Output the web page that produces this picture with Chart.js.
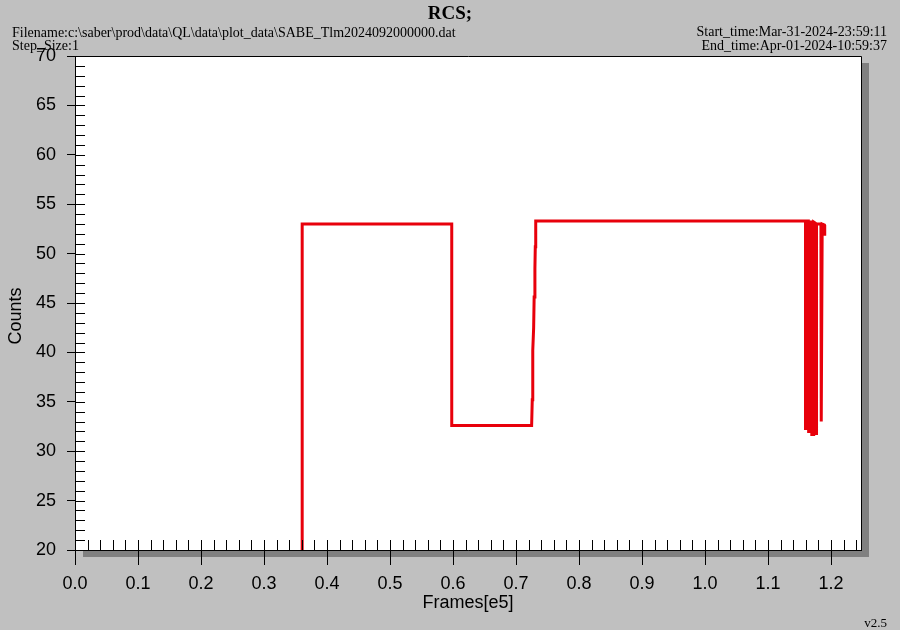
<!DOCTYPE html>
<html><head><meta charset="utf-8">
<script src="https://cdn.jsdelivr.net/npm/chart.js@4.4.1/dist/chart.umd.min.js"></script>
<style>html,body{margin:0;padding:0;background:#c0c0c0;}canvas{display:block;}</style>
</head><body>
<canvas id="c" width="900" height="630"></canvas>
<script>
const chartTitle = 'RCS;';
const headerLeft = ['Filename:c:\\saber\\prod\\data\\QL\\data\\plot_data\\SABE_Tlm2024092000000.dat', 'Step_Size:1'];
const headerRight = ['Start_time:Mar-31-2024-23:59:11', 'End_time:Apr-01-2024-10:59:37'];
const versionLabel = 'v2.5';
const xAxisTitle = 'Frames[e5]';
const yAxisTitle = 'Counts';
const xTicks = [0.0, 0.1, 0.2, 0.3, 0.4, 0.5, 0.6, 0.7, 0.8, 0.9, 1.0, 1.1, 1.2];
const yTicks = [20, 25, 30, 35, 40, 45, 50, 55, 60, 65, 70];
const xRange = [0, 1.2476];
const yRange = [20, 70];

// RCS counts vs frames (e5)
const frames = [0.000, 0.3606, 0.3606, 0.5980, 0.5980, 0.7248, 0.7258, 0.7266, 0.7280, 0.7288, 0.7300, 0.7306, 0.7313,
  1.1595, 1.1595, 1.1610, 1.1615, 1.1640, 1.1645, 1.1665, 1.1670, 1.1690, 1.1695, 1.1720, 1.1725, 1.1750, 1.1755,
  1.1765, 1.1770, 1.1840, 1.1845, 1.1855, 1.1860, 1.1895, 1.1900];
const counts = [0, 0, 53.0, 53.0, 32.6, 32.6, 35.2, 40.2, 42.5, 45.6, 48.5, 50.7, 53.3,
  53.3, 32.3, 32.3, 53.3, 53.3, 32.0, 32.0, 53.2, 53.2, 31.7, 31.7, 53.2, 53.1, 31.8,
  31.8, 53.0, 53.0, 33.0, 33.0, 53.0, 52.9, 51.8];

Chart.defaults.font.family = 'Liberation Sans';
Chart.defaults.color = '#000';

const framePlugin = {
  id: 'framePlugin',
  beforeDraw(chart) {
    const {ctx, chartArea: a} = chart;
    ctx.save();
    ctx.fillStyle = '#c0c0c0';
    ctx.fillRect(0, 0, chart.width, chart.height);
    ctx.fillStyle = '#808080';
    ctx.fillRect(a.left + 8, a.top + 7, a.right - a.left, a.bottom - a.top);
    ctx.fillStyle = '#ffffff';
    ctx.fillRect(a.left, a.top, a.right - a.left, a.bottom - a.top);
    // header texts
    ctx.fillStyle = '#000';
    ctx.textBaseline = 'alphabetic';
    ctx.font = 'bold 19px "Liberation Serif"';
    ctx.textAlign = 'center';
    ctx.fillText(chartTitle, 450, 19);
    ctx.font = '14px "Liberation Serif"';
    ctx.textAlign = 'left';
    ctx.fillText(headerLeft[0], 12, 37);
    ctx.fillText(headerLeft[1], 12, 50);
    ctx.textAlign = 'right';
    ctx.fillText(headerRight[0], 887, 36);
    ctx.fillText(headerRight[1], 887, 50);
    ctx.font = '13px "Liberation Serif"';
    ctx.fillText(versionLabel, 887, 627);
    // y axis title
    ctx.font = '18px "Liberation Sans"';
    ctx.translate(16, 316);
    ctx.rotate(-Math.PI / 2);
    ctx.textAlign = 'center';
    ctx.textBaseline = 'middle';
    ctx.fillText(yAxisTitle, 0, 0);
    ctx.restore();
  },
  afterDraw(chart) {
    const {ctx, chartArea: a, scales} = chart;
    ctx.save();
    ctx.strokeStyle = '#000';
    ctx.lineWidth = 1;
    ctx.beginPath();
    // inner ticks on x every 0.02
    for (let i = 1; i * 0.02 < xRange[1]; i++) {
      const px = Math.round(scales.x.getPixelForValue(i * 0.02)) + 0.5;
      ctx.moveTo(px, a.bottom);
      ctx.lineTo(px, a.bottom - 10);
    }
    // inner ticks on y every 1
    for (let v = yRange[0] + 1; v < yRange[1]; v++) {
      const py = Math.round(scales.y.getPixelForValue(v)) + 0.5;
      ctx.moveTo(a.left, py);
      ctx.lineTo(a.left + 10, py);
    }
    // top and right border
    ctx.moveTo(a.left, Math.round(a.top) + 0.5);
    ctx.lineTo(Math.round(a.right) + 0.5, Math.round(a.top) + 0.5);
    ctx.lineTo(Math.round(a.right) + 0.5, a.bottom);
    ctx.stroke();
    ctx.restore();
  }
};

new Chart(document.getElementById('c'), {
  type: 'scatter',
  data: {
    datasets: [{
      data: frames.map((f, i) => ({x: f, y: counts[i]})),
      showLine: true,
      borderColor: '#e8000b',
      borderWidth: 3,
      pointRadius: 0,
      fill: false,
      tension: 0,
      clip: 0
    }]
  },
  options: {
    responsive: false,
    animation: false,
    devicePixelRatio: 1,
    layout: {padding: {left: 0, top: 56, right: 39, bottom: 0}},
    plugins: {legend: {display: false}, tooltip: {enabled: false}},
    scales: {
      x: {
        type: 'linear', min: xRange[0], max: xRange[1],
        afterBuildTicks: s => { s.ticks = xTicks.map(v => ({value: v})); },
        afterFit: s => { s.height = 80; },
        ticks: {callback: v => Number(v).toFixed(1), font: {size: 18}, color: '#000', padding: 8, maxRotation: 0, autoSkip: false},
        grid: {display: true, drawOnChartArea: false, drawTicks: true, tickLength: 15, color: '#000', lineWidth: 1},
        border: {display: true, color: '#000', width: 1},
        title: {display: true, text: xAxisTitle, font: {size: 18}, color: '#000', padding: {top: 0, bottom: 16}}
      },
      y: {
        type: 'linear', min: yRange[0], max: yRange[1],
        afterBuildTicks: s => { s.ticks = yTicks.map(v => ({value: v})); },
        afterFit: s => { s.width = 75; },
        ticks: {font: {size: 18}, color: '#000', padding: 11, autoSkip: false},
        grid: {display: true, drawOnChartArea: false, drawTicks: true, tickLength: 8, color: '#000', lineWidth: 1},
        border: {display: true, color: '#000', width: 1}
      }
    }
  },
  plugins: [framePlugin]
});
</script>
</body></html>
